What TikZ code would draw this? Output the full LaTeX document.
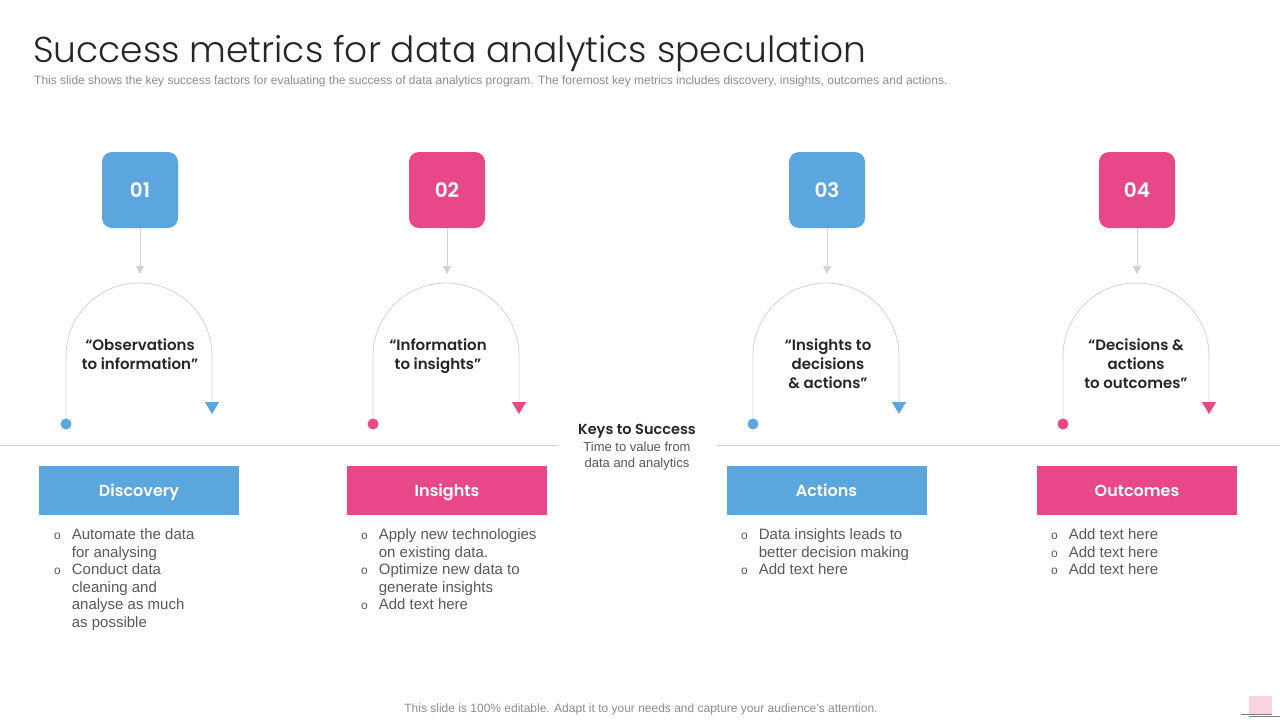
\documentclass[tikz,border=0pt]{standalone}
\usepackage{fontspec}
\setmainfont{Liberation Sans}
\newfontfamily\gothic{Poppins}[BoldFont=* SemiBold]
\newfontfamily\gothiclight{Poppins Light}
\usetikzlibrary{arrows.meta}
\definecolor{sblue}{HTML}{5BA6DC}
\definecolor{spink}{HTML}{E8478A}
\definecolor{archgray}{HTML}{D2D2D2}
\definecolor{txtdark}{HTML}{262626}
\definecolor{txtgray}{HTML}{595959}
\definecolor{subgray}{HTML}{8C8C8C}
\definecolor{lightpink}{HTML}{F9D3E1}
\begin{document}
\begin{tikzpicture}[x=1pt,y=1pt,
  numbox/.style={rounded corners=10pt, minimum width=76pt, minimum height=76pt, inner sep=0pt, text=white, text height=14pt, text depth=0pt, font=\gothic\bfseries\fontsize{20}{24}\selectfont},
  labbox/.style={minimum width=200pt, minimum height=49pt, inner sep=0pt, text=white, text height=11.5pt, text depth=0.5pt, font=\gothic\bfseries\fontsize{16}{19}\selectfont},
  arch/.style={draw=archgray, line width=0.8pt},
  feed/.style={draw=archgray, line width=0.8pt, -{Triangle[width=8pt,length=8pt]}},
  quotetxt/.style={align=center, text=txtdark, inner sep=0pt, font=\gothic\bfseries\fontsize{15}{19}\selectfont},
  bullets/.style={anchor=north west, inner sep=0pt, text=txtgray, font=\fontsize{15}{17.6}\selectfont},
  dotb/.style={circle, inner sep=0pt, minimum size=11pt},
]
\useasboundingbox[fill=white] (0,0) rectangle (1280,-720);

% title
\node[anchor=base west, inner sep=0pt, text=txtdark, font=\gothiclight\fontsize{36}{40}\selectfont] (title) at (33,-62) {Success metrics for data analytics speculation};
\node[anchor=base west, inner sep=0pt, text=subgray, font=\fontsize{12}{14}\selectfont] (sub) at (34,-84) {This slide shows the key success factors for evaluating the success of data analytics program. The foremost key metrics includes discovery, insights, outcomes and actions.};

% horizontal line
\coordinate (hl0) at (0,-445);
\coordinate (hl1) at (558,-445);
\coordinate (hl2) at (716,-445);
\coordinate (hl3) at (1280,-445);
\draw[archgray, line width=0.8pt] (hl0) -- (hl1);
\draw[archgray, line width=0.8pt] (hl2) -- (hl3);

% keys to success
\node[inner sep=0pt, text=txtdark, font=\gothic\bfseries\fontsize{14.5}{17}\selectfont] (keys) at (637,-431) {Keys to Success};
\node[inner sep=0pt, align=center, text=txtgray, font=\fontsize{13}{16}\selectfont] (keysub) at (637,-456) {Time to value from\\data and analytics};

% number boxes
\node[numbox, fill=sblue] (n1) at (140,-190) {01};
\node[numbox, fill=spink] (n2) at (447,-190) {02};
\node[numbox, fill=sblue] (n3) at (827,-190) {03};
\node[numbox, fill=spink] (n4) at (1137,-190) {04};

\coordinate (f1) at (140,-274);
\coordinate (f2) at (447,-274);
\coordinate (f3) at (827,-274);
\coordinate (f4) at (1137,-274);
\draw[feed] (n1.south) -- (f1);
\draw[feed] (n2.south) -- (f2);
\draw[feed] (n3.south) -- (f3);
\draw[feed] (n4.south) -- (f4);

% arches
\coordinate (t1) at (212,-414);
\coordinate (t2) at (519,-414);
\coordinate (t3) at (899,-414);
\coordinate (t4) at (1209,-414);
\node[dotb] (d1) at (66,-424) {};
\node[dotb] (d2) at (373,-424) {};
\node[dotb] (d3) at (753,-424) {};
\node[dotb] (d4) at (1063,-424) {};
\draw[arch, -{Triangle[width=14pt,length=12pt,sblue,fill=sblue]}] (d1.center) -- ++(0,68) arc(180:0:73) -- (t1);
\draw[arch, -{Triangle[width=14pt,length=12pt,spink,fill=spink]}] (d2.center) -- ++(0,68) arc(180:0:73) -- (t2);
\draw[arch, -{Triangle[width=14pt,length=12pt,sblue,fill=sblue]}] (d3.center) -- ++(0,68) arc(180:0:73) -- (t3);
\draw[arch, -{Triangle[width=14pt,length=12pt,spink,fill=spink]}] (d4.center) -- ++(0,68) arc(180:0:73) -- (t4);
\fill[sblue] (d1) circle (5.5);
\fill[spink] (d2) circle (5.5);
\fill[sblue] (d3) circle (5.5);
\fill[spink] (d4) circle (5.5);

% quotes
\node[quotetxt] (q1) at (140,-354) {“Observations\\to information”};
\node[quotetxt] (q2) at (438,-356) {“Information\\to insights”};
\node[quotetxt] (q3) at (828,-364) {“Insights to\\decisions\\\& actions”};
\node[quotetxt] (q4) at (1136,-364) {“Decisions \&\\actions\\to outcomes”};

% label boxes
\node[labbox, fill=sblue] (l1) at (139,-490.5) {Discovery};
\node[labbox, fill=spink] (l2) at (447,-490.5) {Insights};
\node[labbox, fill=sblue] (l3) at (826.5,-490.5) {Actions};
\node[labbox, fill=spink] (l4) at (1137,-490.5) {Outcomes};

% bullets
\newcommand{\bmark}{{\fontsize{12}{12}\selectfont o}}
\node[bullets] (b1) at (54,-527) {\begin{tabular}{@{}l@{\hspace{11pt}}l@{}}
\bmark & Automate the data\\ & for analysing\\
\bmark & Conduct data\\ & cleaning and\\ & analyse as much\\ & as possible\end{tabular}};
\node[bullets] (b2) at (361,-527) {\begin{tabular}{@{}l@{\hspace{11pt}}l@{}}
\bmark & Apply new technologies\\ & on existing data.\\
\bmark & Optimize new data to\\ & generate insights\\
\bmark & Add text here\end{tabular}};
\node[bullets] (b3) at (741,-527) {\begin{tabular}{@{}l@{\hspace{11pt}}l@{}}
\bmark & Data insights leads to\\ & better decision making\\
\bmark & Add text here\end{tabular}};
\node[bullets] (b4) at (1051,-527) {\begin{tabular}{@{}l@{\hspace{11pt}}l@{}}
\bmark & Add text here\\
\bmark & Add text here\\
\bmark & Add text here\end{tabular}};

% footer
\node[anchor=base, inner sep=0pt, text=subgray, font=\fontsize{12}{14}\selectfont] (foot) at (641,-712) {This slide is 100\% editable. Adapt it to your needs and capture your audience’s attention.};

% corner mark
\fill[lightpink] (1249,-696) rectangle (1272,-714);
\draw[gray, line width=0.6pt] (1241,-714) -- (1272,-714);
\draw[gray, line width=0.6pt] (1249,-716) -- (1280,-716);
\end{tikzpicture}
\end{document}
